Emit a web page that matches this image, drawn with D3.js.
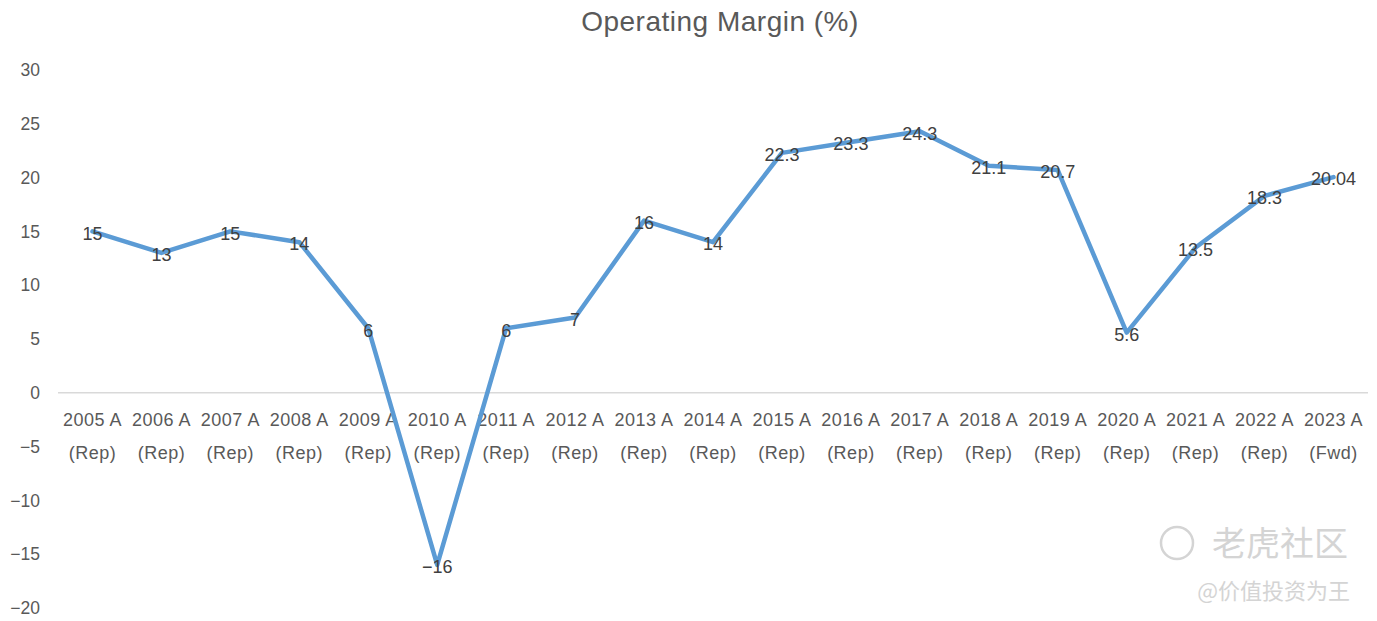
<!DOCTYPE html>
<html><head><meta charset="utf-8">
<script src="https://cdn.jsdelivr.net/npm/d3@7"></script>
<style>body{margin:0;background:#fff}svg{display:block}</style>
</head><body>
<script>
const categories = ["2005 A|(Rep)","2006 A|(Rep)","2007 A|(Rep)","2008 A|(Rep)","2009 A|(Rep)","2010 A|(Rep)","2011 A|(Rep)","2012 A|(Rep)","2013 A|(Rep)","2014 A|(Rep)","2015 A|(Rep)","2016 A|(Rep)","2017 A|(Rep)","2018 A|(Rep)","2019 A|(Rep)","2020 A|(Rep)","2021 A|(Rep)","2022 A|(Rep)","2023 A|(Fwd)"];
const values = [15,13,15,14,6,-16,6,7,16,14,22.3,23.3,24.3,21.1,20.7,5.6,13.5,18.3,20.04];
const valueLabels = ["15","13","15","14","6","−16","6","7","16","14","22.3","23.3","24.3","21.1","20.7","5.6","13.5","18.3","20.04"];
const yTicks = [30,25,20,15,10,5,0,-5,-10,-15,-20];
const title = "Operating Margin (%)";

const W=1377,H=621;
const svg=d3.select("body").append("svg").attr("width",W).attr("height",H);
const font="'Liberation Sans', Arial, sans-serif";
const x=d3.scaleBand().domain(categories).range([58,1368]);
const y=d3.scaleLinear().domain([-20,30]).range([608,70]);

svg.append("text").attr("x",720).attr("y",31).attr("text-anchor","middle")
  .attr("font-family",font).attr("font-size",28).attr("letter-spacing",0.5).attr("fill","#595959").text(title);

// watermark
const wm=svg.append("g").attr("fill","#d4d4d4").attr("font-family","'Noto Sans CJK SC',sans-serif");
wm.append("circle").attr("cx",1177).attr("cy",543).attr("r",16).attr("fill","none").attr("stroke","#d4d4d4").attr("stroke-width",2.5);
wm.append("text").attr("x",1212).attr("y",556).attr("font-size",34).text("老虎社区");
wm.append("text").attr("x",1350).attr("y",599).attr("text-anchor","end").attr("font-size",22).text("@价值投资为王");

// y tick labels
svg.append("g").selectAll("text").data(yTicks).join("text")
  .attr("x",40).attr("y",d=>y(d)).attr("dy","0.35em").attr("text-anchor","end")
  .attr("font-family",font).attr("font-size",17.5).attr("fill","#595959")
  .text(d=>d<0?"−"+Math.abs(d):d);

// zero line
svg.append("line").attr("x1",58).attr("x2",1368).attr("y1",y(0)).attr("y2",y(0))
  .attr("stroke","#d9d9d9").attr("stroke-width",1.5);

// category labels
const cg=svg.append("g").selectAll("text").data(categories).join("text")
  .attr("text-anchor","middle").attr("font-family",font).attr("font-size",18).attr("letter-spacing",0.5).attr("fill","#595959");
cg.append("tspan").attr("x",d=>x(d)+x.bandwidth()/2).attr("y",426).text(d=>d.split("|")[0]);
cg.append("tspan").attr("x",d=>x(d)+x.bandwidth()/2).attr("y",459).text(d=>d.split("|")[1]);

// line
const line=d3.line().x((d,i)=>x(categories[i])+x.bandwidth()/2).y(d=>y(d));
svg.append("path").datum(values).attr("d",line).attr("fill","none")
  .attr("stroke","#5b9bd5").attr("stroke-width",4.5).attr("stroke-linejoin","round").attr("stroke-linecap","round");

// data labels
svg.append("g").selectAll("text").data(values).join("text")
  .attr("x",(d,i)=>x(categories[i])+x.bandwidth()/2).attr("y",d=>y(d)+2).attr("dy","0.35em")
  .attr("text-anchor","middle").attr("font-family",font).attr("font-size",18).attr("fill","#404040")
  .text((d,i)=>valueLabels[i]);
</script>
</body></html>
